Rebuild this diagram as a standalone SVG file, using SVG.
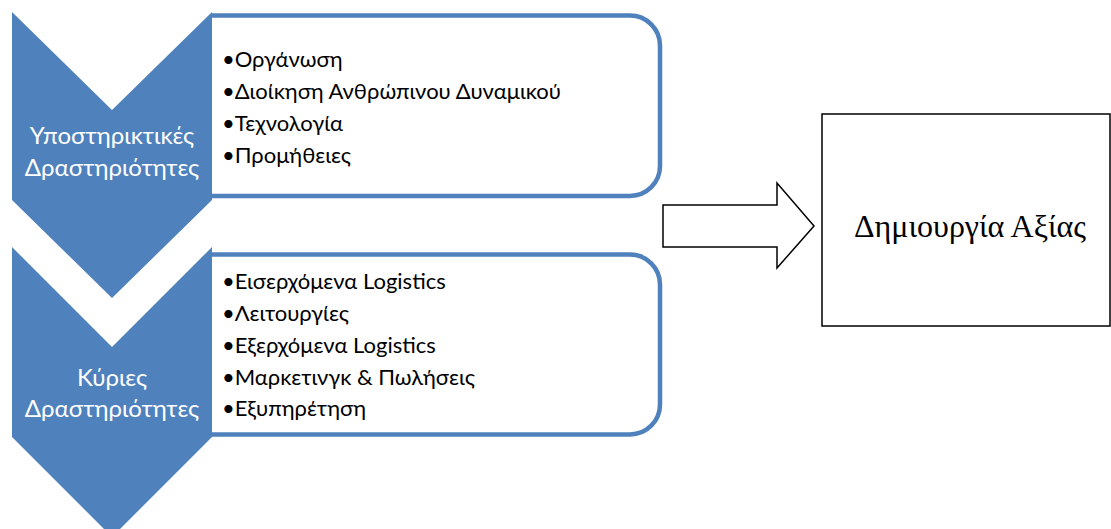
<svg xmlns="http://www.w3.org/2000/svg" width="1111" height="529" viewBox="0 0 1111 529">
  <style>
    .panel { fill: #FFFFFF; stroke: #4F81BD; stroke-width: 4.5; }
    .chev { fill: #4F81BD; stroke: none; }
    .chevtxt { fill: #FFFFFF; font-family: Lato, "Open Sans", "Noto Sans", sans-serif; font-size: 24px; text-anchor: middle; }
    .item { fill: #000000; font-family: Lato, "Open Sans", "Noto Sans", sans-serif; font-size: 22px; }
    .outline { fill: #FFFFFF; stroke: #000000; stroke-width: 1.5; }
    .valtxt { fill: #000000; font-family: "Liberation Serif", "Times New Roman", serif; font-size: 32px; text-anchor: middle; }
  </style>
  <rect width="1111" height="529" fill="#FFFFFF"/>

  <g id="support-panel">
    <path class="panel" d="M212,15.5 H630 A30,30 0 0 1 660,45.5 V166 A30,30 0 0 1 630,196 H212"/>
    <text class="item" x="222" y="67">•Οργάνωση</text>
    <text class="item" x="222" y="99">•Διοίκηση Ανθρώπινου Δυναμικού</text>
    <text class="item" x="222" y="131">•Τεχνολογία</text>
    <text class="item" x="222" y="163">•Προμήθειες</text>
  </g>

  <g id="primary-panel">
    <path class="panel" d="M212,254.5 H630 A30,30 0 0 1 660,284.5 V404.5 A30,30 0 0 1 630,434.5 H212"/>
    <text class="item" x="222" y="289">•Εισερχόμενα Logistics</text>
    <text class="item" x="222" y="321">•Λειτουργίες</text>
    <text class="item" x="222" y="353">•Εξερχόμενα Logistics</text>
    <text class="item" x="222" y="385">•Μαρκετινγκ &amp; Πωλήσεις</text>
    <text class="item" x="222" y="416">•Εξυπηρέτηση</text>
  </g>

  <g id="support-chevron">
    <polygon class="chev" points="12,12 112,110 212,12 212,200 112,298 12,200"/>
    <text class="chevtxt" x="112" y="144">Υποστηρικτικές</text>
    <text class="chevtxt" x="112" y="176">Δραστηριότητες</text>
  </g>

  <g id="primary-chevron">
    <polygon class="chev" points="12,247 112,347 212,247 212,437 112,537 12,437"/>
    <text class="chevtxt" x="112" y="386">Κύριες</text>
    <text class="chevtxt" x="112" y="417">Δραστηριότητες</text>
  </g>

  <g id="connectors">
    <polygon class="outline" points="663,205 777,205 777,183 814,226 777,268 777,247 663,247"/>
  </g>

  <g id="value-creation">
    <rect class="outline" x="822" y="114" width="288" height="212"/>
    <text class="valtxt" x="970" y="237">Δημιουργία Αξίας</text>
  </g>
</svg>
